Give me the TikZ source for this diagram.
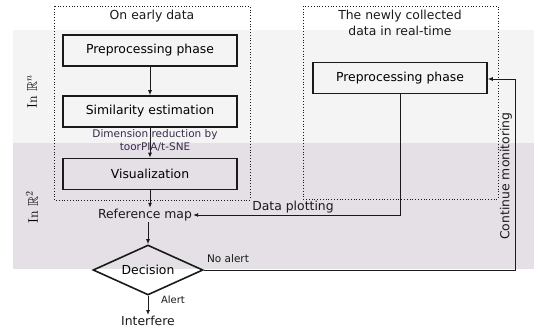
\documentclass[tikz,border=0pt]{standalone}
\usepackage{amssymb}
\usepackage{fontspec}
\newfontfamily\vf{DejaVu Sans}
\usetikzlibrary{shapes.geometric,arrows.meta}
\definecolor{bandA}{HTML}{F4F4F4}
\definecolor{bandB}{HTML}{E4E0E6}
\definecolor{lbl}{HTML}{3A2A4C}
\definecolor{ink}{HTML}{1A1A1A}
\tikzset{
  procbox/.style={draw=ink,line width=1.6pt,minimum width=174pt,minimum height=31pt,inner sep=0pt,font=\vf\fontsize{12.4}{14.5}\selectfont},
  frame/.style={draw=ink,line width=0.8pt,dotted},
  txt/.style={inner sep=1pt,font=\vf\fontsize{12.4}{15.5}\selectfont,text=ink},
  small/.style={inner sep=1pt,font=\vf\fontsize{10.5}{12.5}\selectfont,text=ink},
  conn/.style={draw=ink,line width=0.9pt},
  arr/.style={conn,-{Latex[length=5pt,width=4pt]}},
  decide/.style={draw=ink,line width=1.6pt,diamond,aspect=2.2,minimum width=110pt,minimum height=50pt,inner sep=0pt,font=\vf\fontsize{12.4}{14.5}\selectfont}
}
\begin{document}
\begin{tikzpicture}[x=1pt,y=-1pt]
\useasboundingbox (0,0) rectangle (534,331);
% bands
\fill[bandA] (13,30) rectangle (534,143);
\fill[bandB] (13,143) rectangle (534,269);
% frames
\draw[frame] (54,6) rectangle (250,200);
\draw[frame] (303,6) rectangle (498,199);
\node[txt] (t1) at (152,16) {On early data};
\node[txt,align=center] (t2) at (400,23) {The newly collected\\data in real-time};
% side labels
\node[rotate=90,font=\fontsize{14}{16}\selectfont] (rn) at (32,92) {In $\mathbb{R}^n$};
\node[rotate=90,font=\fontsize{14}{16}\selectfont] (r2) at (32,207) {In $\mathbb{R}^2$};
% boxes
\node[procbox] (pp1) at (150,50.5) {Preprocessing phase};
\node[procbox] (sim) at (150,111.5) {Similarity estimation};
\node[procbox] (vis) at (150,174) {Visualization};
\node[procbox] (pp2) at (400,78) {Preprocessing phase};
\node[txt] (ref) at (145,215) {Reference map};
\node[decide] (dec) at (148,270) {Decision};
\node[txt] (intf) at (148,321) {Interfere};
% arrows
\draw[arr] (pp1) -- (sim);
\draw[arr] (sim.south) -- (vis.north);
\node[small,text=lbl,align=center] (dr) at (155,140.5) {Dimension reduction by\\toorPIA/t-SNE};
\draw[arr] (vis.south) -- (ref.north -| vis.south);
\draw[arr] (ref.south -| dec.north) -- (dec.north);
\coordinate (dp) at (pp2.south |- ref.east);
\draw[arr] (pp2.south) -- (dp) -- (ref.east);
\node[txt] (dpl) at (293,207) {Data plotting};
\coordinate (c1) at (515,270);
\coordinate (c2) at (515,79);
\draw[arr] (dec.east) -- (c1) -- (c2) -- (pp2.east |- c2);
\node[small] (na) at (228,259) {No alert};
\node[txt,rotate=90] (cm) at (506,176) {Continue monitoring};
\draw[arr] (dec.south) -- (intf.north);
\node[small,font=\vf\fontsize{10}{12}\selectfont] (al) at (173,300) {Alert};
\end{tikzpicture}
\end{document}
